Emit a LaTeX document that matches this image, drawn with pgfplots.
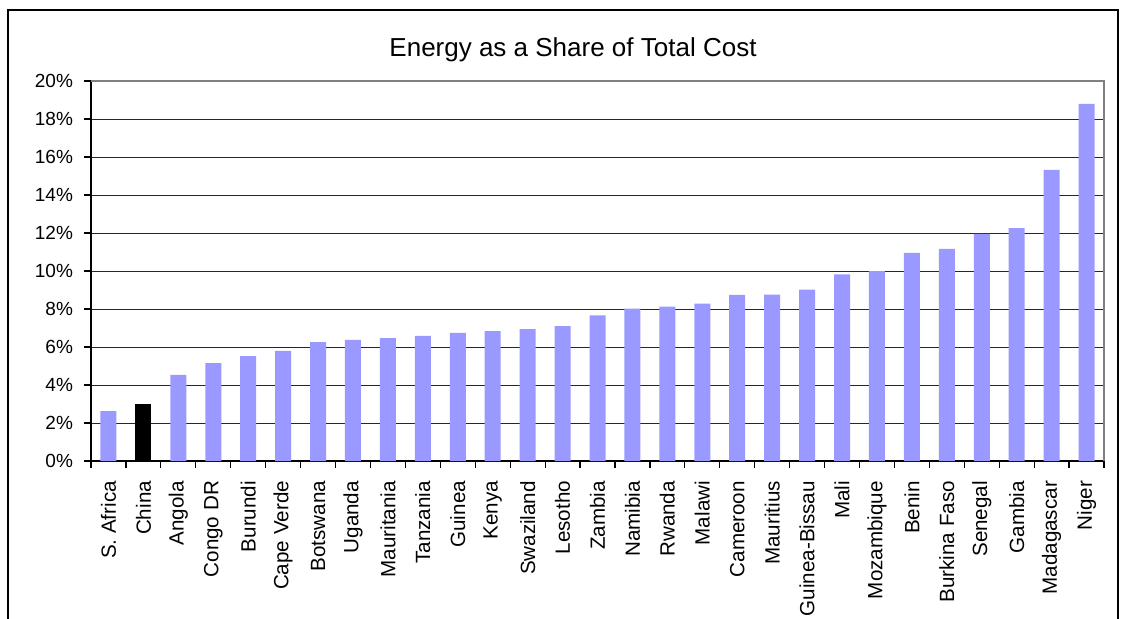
\documentclass[border=0pt]{standalone}
\usepackage{pgfplots}
\pgfplotsset{compat=1.18}
\usepackage{fontspec}
\setmainfont{Liberation Sans}
\definecolor{barblue}{RGB}{153,153,255}
\pgfplotstableread{
x y
0 2.63
2 4.53
3 5.15
4 5.52
5 5.79
6 6.26
7 6.37
8 6.47
9 6.58
10 6.74
11 6.84
12 6.94
13 7.10
14 7.66
15 8.02
16 8.12
17 8.28
18 8.74
19 8.76
20 9.02
21 9.82
22 10.0
23 10.95
24 11.16
25 11.95
26 12.26
27 15.32
28 18.79
}\blue
\pgfplotstableread{
x y
1 3.0
}\china
\begin{document}
\begin{tikzpicture}[x=1pt,y=1pt]
\useasboundingbox (0,0) rectangle (565,309);
\draw[line width=0.6pt] (4,-5) -- (4,304) -- (559,304) -- (559,-5);
\node[anchor=base, font=\fontsize{13}{15}\selectfont] at (286.5,281) {Energy as a Share of Total Cost};
\begin{axis}[at={(45.5pt,78.5pt)}, anchor=south west, scale only axis,
  width=506.5pt, height=190pt,
  xmin=-0.5, xmax=28.5, ymin=0, ymax=20,
  axis x line*=bottom, axis y line*=left,
  axis line style={black, line width=0.6pt, -},
  ytick={0,2,...,20},
  yticklabel={\pgfmathprintnumber{\tick}\%},
  ymajorgrids, grid style={black!85, line width=0.5pt},
  xtick={-0.5,0.5,...,28.5}, xticklabels={},
  extra x ticks={0,...,28},
  extra x tick labels={S. Africa,China,Angola,Congo DR,Burundi,Cape Verde,Botswana,Uganda,Mauritania,Tanzania,Guinea,Kenya,Swaziland,Lesotho,Zambia,Namibia,Rwanda,Malawi,Cameroon,Mauritius,Guinea-Bissau,Mali,Mozambique,Benin,Burkina Faso,Senegal,Gambia,Madagascar,Niger},
  extra x tick style={major tick length=0pt, xticklabel style={rotate=90, anchor=east, xshift=-6.5pt, font=\fontsize{10.3}{12}\selectfont}},
  major tick length=3.5pt, tick align=outside,
  tick style={black, line width=0.6pt},
  yticklabel style={font=\fontsize{9.5}{11}\selectfont, xshift=-2pt},
  /pgf/number format/assume math mode=true,
  ybar, bar width=8pt,
  clip=false,
  after end axis/.code={\draw[gray, line width=0.6pt] (rel axis cs:0,1) -- (rel axis cs:1,1) -- (rel axis cs:1,0);}
]
\addplot[fill=barblue, draw=none, bar shift=0pt] table[x=x,y=y] {\blue};
\addplot[fill=black, draw=none, bar shift=0pt] table[x=x,y=y] {\china};
\end{axis}
\end{tikzpicture}
\end{document}
